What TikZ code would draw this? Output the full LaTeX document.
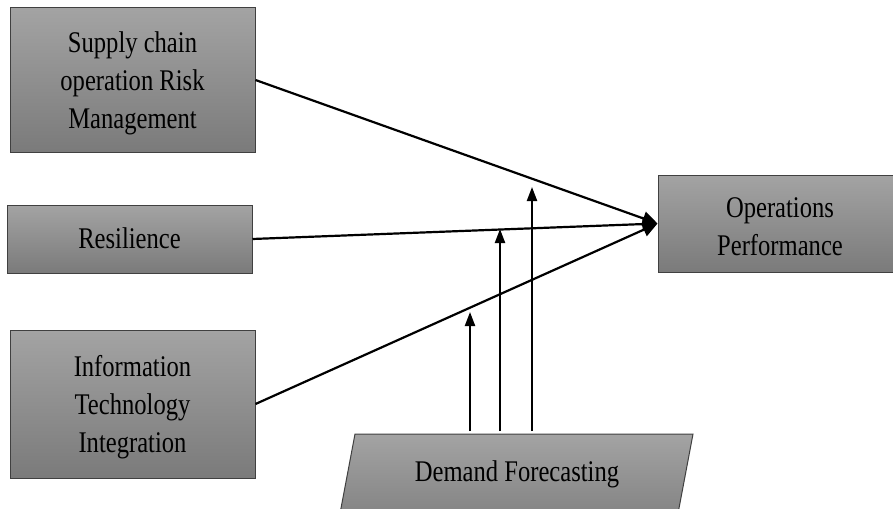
\documentclass[tikz,border=0pt]{standalone}
\usepackage{fontspec}
\setmainfont{Liberation Serif}[FakeStretch=0.82]
\usetikzlibrary{arrows.meta}
\begin{document}
\begin{tikzpicture}[x=1pt,y=-1pt,
  box/.style={draw=black!75, line width=1pt, top color=black!36, bottom color=black!52, inner sep=0pt},
  lbl/.style={font=\fontsize{30}{38}\selectfont, align=center, inner sep=0pt},
  link/.style={line width=2.2pt, -{Triangle[length=15pt,width=14pt]}},
  modarrow/.style={line width=2.2pt, -{Triangle[length=14pt,width=10pt]}}]
\useasboundingbox (0,0) rectangle (893,508);
\node[box, minimum width=245pt, minimum height=144pt] (scrm) at (132.5,80) {};
\node[lbl] (scrmt) at (132.5,83) {Supply chain\\operation Risk\\Management};
\node[box, minimum width=245pt, minimum height=68pt] (res) at (129.5,239) {};
\node[lbl] (rest) at (129.5,238) {Resilience};
\node[box, minimum width=245pt, minimum height=148pt] (iti) at (132.5,404) {};
\node[lbl] (itit) at (132.5,407) {Information\\Technology\\Integration};
\node[box, minimum width=244pt, minimum height=97pt] (ops) at (780,223.5) {};
\node[lbl] (opst) at (780,227) {Operations\\Performance};
\shade[draw=black!75, line width=1pt, top color=black!36, bottom color=black!52]
  (355,434) -- (693,434) -- (673,540) -- (335,540) -- cycle;
\node[lbl] (demand) at (517,474) {Demand Forecasting};
\coordinate (b1) at (470,431);
\coordinate (b2) at (500,431);
\coordinate (b3) at (532,431);
\coordinate (t1) at (470,312);
\coordinate (t2) at (500,229);
\coordinate (t3) at (532,187);
\draw[link] (scrm.east) -- (ops.west);
\draw[link] (res.east) -- (ops.west);
\draw[link] (iti.east) -- (ops.west);
\draw[modarrow] (b1) -- (t1);
\draw[modarrow] (b2) -- (t2);
\draw[modarrow] (b3) -- (t3);
\end{tikzpicture}
\end{document}
